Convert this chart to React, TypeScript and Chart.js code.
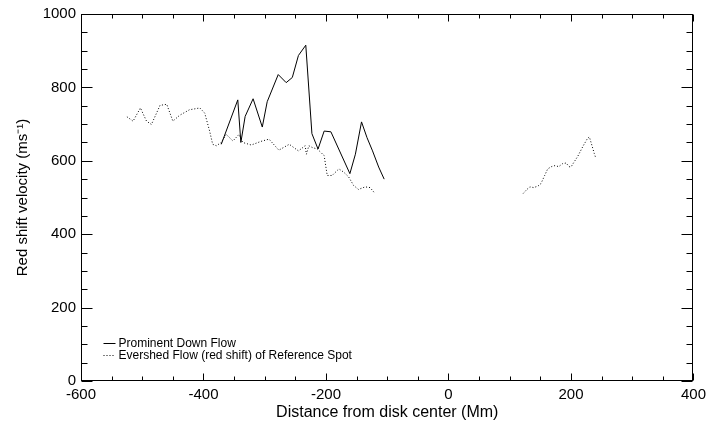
import React, { useEffect, useRef } from "react";
import { Chart, registerables } from "chart.js";

Chart.register(...registerables);

const downFlowDist = [-371, -344, -339, -332, -319, -304, -296, -278, -265, -255, -245, -233, -223, -213, -203, -192, -161, -152, -142, -133, -124, -114, -105];
const downFlowVel = [645, 766, 650, 721, 769, 692, 761, 835, 813, 827, 887, 915, 674, 632, 681, 679, 565, 618, 706, 663, 627, 583, 550];

const evershedDist = [-525, -515, -503, -493, -485, -471, -460, -450, -439, -423, -406, -398, -390, -385, -379, -371, -363, -352, -342, -336, -322, -306, -293, -277, -260, -245, -234, -232, -228, -222, -214, -203, -198, -190, -179, -171, -163, -155, -147, -136, -128, -121, 0, 122, 128, 133, 139, 146, 151, 157, 162, 168, 174, 180, 186, 192, 197, 200, 204, 211, 220, 227, 230, 234, 238, 240];
const evershedVel: (number | null)[] = [720, 708, 744, 708, 699, 751, 754, 708, 724, 739, 744, 730, 681, 645, 641, 650, 672, 654, 672, 650, 643, 653, 659, 629, 645, 627, 641, 618, 641, 636, 632, 614, 560, 560, 578, 569, 556, 533, 522, 529, 527, 513, null, 511, 522, 529, 527, 531, 538, 560, 578, 584, 587, 584, 592, 594, 584, 583, 594, 612, 641, 661, 665, 643, 620, 610];

const seriesLabels = ["Prominent Down Flow", "Evershed Flow (red shift) of Reference Spot"];
const xTickLabels = [-600, -400, -200, 0, 200, 400];
const yTickLabels = [0, 200, 400, 600, 800, 1000];
const xMinorStep = 50;
const yMinorStep = 50;

const FONT = "'Liberation Sans', Arial, Helvetica, sans-serif";

const framePlugin = {
  id: "idlFrame",
  afterDraw(chart: any) {
    const { ctx, chartArea } = chart;
    const { left, right, top, bottom } = chartArea;
    const xs = chart.scales.x;
    const ys = chart.scales.y;
    ctx.save();
    ctx.strokeStyle = "#000";
    ctx.lineWidth = 1;
    ctx.setLineDash([]);
    const L = Math.round(left) + 0.5;
    const R = Math.round(right) - 0.5;
    const T = Math.round(top) + 0.5;
    const B = Math.round(bottom) - 0.5;
    ctx.strokeRect(L, T, R - L, B - T);
    ctx.beginPath();
    const xMin = xTickLabels[0];
    const xMax = xTickLabels[xTickLabels.length - 1];
    for (let v = xMin; v <= xMax; v += xMinorStep) {
      const px = Math.round(xs.getPixelForValue(v)) + 0.5;
      const major = xTickLabels.includes(v);
      const len = major ? 7 : 4;
      ctx.moveTo(px, B);
      ctx.lineTo(px, B - len);
      ctx.moveTo(px, T);
      ctx.lineTo(px, T + len);
    }
    const yMin = yTickLabels[0];
    const yMax = yTickLabels[yTickLabels.length - 1];
    for (let v = yMin; v <= yMax; v += yMinorStep) {
      const py = Math.round(ys.getPixelForValue(v)) + 0.5;
      const major = yTickLabels.includes(v);
      const len = major ? 11 : 6;
      ctx.moveTo(L, py);
      ctx.lineTo(L + len, py);
      ctx.moveTo(R, py);
      ctx.lineTo(R - len, py);
    }
    ctx.stroke();

    // legend
    const ds = chart.data.datasets;
    const lx = L + 22;
    const rowY = [B - 38, B - 26];
    ctx.font = `12px ${FONT}`;
    ctx.fillStyle = "#000";
    ctx.textBaseline = "middle";
    ds.forEach((d: any, i: number) => {
      const y = Math.round(rowY[i]) + 0.5;
      ctx.beginPath();
      ctx.setLineDash(d.borderDash || []);
      ctx.lineWidth = d.borderWidth;
      ctx.strokeStyle = d.borderColor;
      ctx.moveTo(lx, y);
      ctx.lineTo(lx + 12, y);
      ctx.stroke();
      ctx.setLineDash([]);
      ctx.fillText(d.label, lx + 15, y);
    });
    ctx.restore();
  },
};

export default function App() {
  const ref = useRef<HTMLCanvasElement | null>(null);
  useEffect(() => {
    if (!ref.current) return;
    const chart = new Chart(ref.current, {
      type: "line",
      data: {
        datasets: [
          {
            label: seriesLabels[0],
            data: downFlowDist.map((x, i) => ({ x, y: downFlowVel[i] })),
            borderColor: "#000",
            borderWidth: 1,
            pointRadius: 0,
            tension: 0,
            fill: false,
          },
          {
            label: seriesLabels[1],
            data: evershedDist.map((x, i) => ({ x, y: evershedVel[i] })),
            borderColor: "#000",
            borderWidth: 1,
            borderDash: [1, 2],
            pointRadius: 0,
            tension: 0,
            fill: false,
            spanGaps: false,
          },
        ],
      },
      options: {
        animation: false,
        responsive: false,
        maintainAspectRatio: false,
        layout: { padding: { left: 0, right: 14, top: 8, bottom: 0 } },
        plugins: { legend: { display: false }, tooltip: { enabled: false } },
        scales: {
          x: {
            type: "linear",
            min: xTickLabels[0],
            max: xTickLabels[xTickLabels.length - 1],
            afterBuildTicks: (s: any) => {
              s.ticks = xTickLabels.map((v) => ({ value: v }));
            },
            afterFit: (s: any) => {
              s.height = 46;
            },
            grid: { display: false, drawTicks: false },
            border: { display: false },
            ticks: {
              padding: 5,
              color: "#000",
              font: { family: FONT, size: 15 },
              maxRotation: 0,
              autoSkip: false,
              callback: (v: any) => String(v),
            },
            title: {
              display: true,
              text: "Distance from disk center (Mm)",
              color: "#000",
              font: { family: FONT, size: 16 },
              padding: { top: 0, bottom: 5 },
            },
          },
          y: {
            type: "linear",
            min: yTickLabels[0],
            max: yTickLabels[yTickLabels.length - 1],
            afterBuildTicks: (s: any) => {
              s.ticks = yTickLabels.map((v) => ({ value: v }));
            },
            afterFit: (s: any) => {
              s.width = 81;
            },
            grid: { display: false, drawTicks: false },
            border: { display: false },
            ticks: {
              padding: 5,
              color: "#000",
              font: { family: FONT, size: 15 },
              autoSkip: false,
              callback: (v: any) => String(v),
            },
            title: {
              display: true,
              text: "Red shift velocity (ms\u207B\u00B9)",
              color: "#000",
              font: { family: FONT, size: 15 },
              padding: { top: 14, bottom: 0 },
            },
          },
        },
      },
      plugins: [framePlugin],
    });
    return () => chart.destroy();
  }, []);
  return (
    <div style={{ position: "fixed", left: 0, top: 0, width: 711, height: 427, background: "#fff" }}>
      <canvas ref={ref} width={711} height={427} style={{ display: "block", width: 711, height: 427 }} />
    </div>
  );
}
